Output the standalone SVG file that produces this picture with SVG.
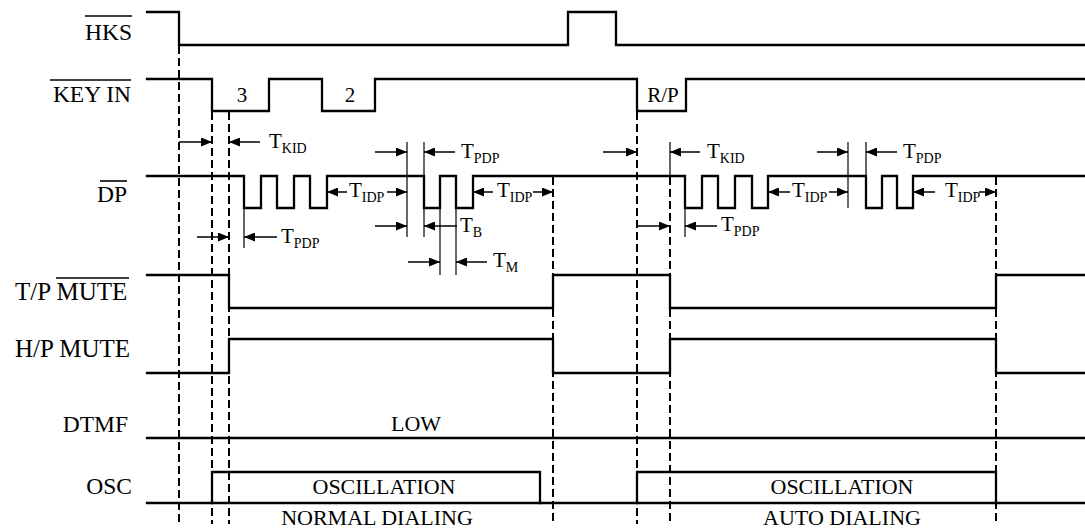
<svg xmlns="http://www.w3.org/2000/svg" width="1085" height="532" viewBox="0 0 1085 532" font-family="'Liberation Serif', 'Times New Roman', serif">
<style>
.sig{fill:none;stroke:#000;stroke-width:2.3;stroke-linejoin:miter;stroke-linecap:square}
.dash{fill:none;stroke:#000;stroke-width:2;stroke-dasharray:8 4}
.thin{fill:none;stroke:#000;stroke-width:1.2}
.arr{fill:none;stroke:#000;stroke-width:1.5;marker-end:url(#ah)}
.ovl{stroke:#000;stroke-width:1.6}
text{font-family:'Liberation Serif','Times New Roman',serif;fill:#000}
.lbl{font-size:23.5px;text-anchor:end}
.mute{font-size:25px}
.t{font-size:21px}
.s{font-size:14px}
.c{font-size:22px;text-anchor:middle}
.k{font-size:21px;text-anchor:middle}
</style>
<defs>
<marker id="ah" markerUnits="userSpaceOnUse" markerWidth="11" markerHeight="9" refX="11" refY="4.5" orient="auto">
<path d="M0,0 L11,4.5 L0,9 z" fill="#000"/>
</marker>
</defs>
<rect width="1085" height="532" fill="#fff"/>

<g id="hks">
<text class="lbl" x="132" y="40">HKS</text>
<line class="ovl" x1="85" y1="16" x2="132" y2="16"/>
<path class="sig" d="M147,12 H179 V45 H568 V12 H616 V45 H1085"/>
</g>

<g id="keyin">
<text class="lbl" x="131" y="102">KEY IN</text>
<line class="ovl" x1="50" y1="80" x2="131" y2="80"/>
<path class="sig" d="M147,79 H212 V111 H269 V79 H322 V111 H375 V79 H637 V111 H686 V79 H1085"/>
<text class="k" x="242" y="102">3</text>
<text class="k" x="350" y="102">2</text>
<text class="k" x="663" y="102">R/P</text>
</g>

<g id="dp">
<text class="lbl" x="127" y="202">DP</text>
<line class="ovl" x1="100" y1="181" x2="127" y2="181"/>
<path class="sig" d="M147,176 H244 V208 H261 V176 H277 V208 H294 V176 H310 V208 H327 V176 H424 V208 H440 V176 H456 V208 H473 V176 H685 V208 H702 V176 H718 V208 H735 V176 H752 V208 H768 V176 H866 V208 H882 V176 H897 V208 H913 V176 H1085"/>
</g>

<g id="tpmute">
<text class="mute" x="15" y="300">T/P MUTE</text>
<line class="ovl" x1="56" y1="278" x2="129" y2="278"/>
<path class="sig" d="M147,275 H229 V308 H553 V275 H670 V308 H996 V275 H1085"/>
</g>

<g id="hpmute">
<text class="mute" x="15" y="357">H/P MUTE</text>
<path class="sig" d="M147,373 H229 V339 H553 V373 H670 V339 H996 V373 H1085"/>
</g>

<g id="dtmf">
<text class="lbl" x="128" y="432">DTMF</text>
<path class="sig" d="M147,438 H1085"/>
<text class="c" x="416" y="431">LOW</text>
</g>

<g id="osc">
<text class="lbl" x="132" y="494">OSC</text>
<path class="sig" d="M147,503 H1085"/>
<path class="sig" d="M212,503 V472 H540 V503"/>
<path class="sig" d="M637,503 V472 H996 V503"/>
<text class="c" x="384" y="494">OSCILLATION</text>
<text class="c" x="842" y="494">OSCILLATION</text>
<text class="c" x="377" y="525">NORMAL DIALING</text>
<text class="c" x="842" y="525">AUTO DIALING</text>
</g>

<g id="connectors">
<line class="dash" x1="179" y1="46" x2="179" y2="524"/>
<line class="dash" x1="212" y1="112" x2="212" y2="524"/>
<line class="dash" x1="229" y1="112" x2="229" y2="524"/>
<line class="dash" x1="553" y1="177" x2="553" y2="524"/>
<line class="dash" x1="637" y1="112" x2="637" y2="524"/>
<line class="dash" x1="670" y1="177" x2="670" y2="524"/>
<line class="dash" x1="996" y1="177" x2="996" y2="524"/>

<line class="thin" x1="670" y1="142" x2="670" y2="176"/>
<line class="thin" x1="685" y1="208" x2="685" y2="237"/>
<line class="thin" x1="244" y1="208" x2="244" y2="248"/>
<line class="thin" x1="407" y1="142" x2="407" y2="237"/>
<line class="thin" x1="424" y1="142" x2="424" y2="237"/>
<line class="thin" x1="440" y1="176" x2="440" y2="275"/>
<line class="thin" x1="456" y1="176" x2="456" y2="275"/>
<line class="thin" x1="848" y1="142" x2="848" y2="208"/>
<line class="thin" x1="866" y1="142" x2="866" y2="176"/>

<line class="arr" x1="179" y1="142" x2="212" y2="142"/>
<line class="arr" x1="260" y1="142" x2="229" y2="142"/>
<text x="269" y="148"><tspan class="t">T</tspan><tspan class="s" dy="5">KID</tspan></text>
<line class="arr" x1="197" y1="237" x2="229" y2="237"/>
<line class="arr" x1="277" y1="237" x2="244" y2="237"/>
<text x="281" y="243"><tspan class="t">T</tspan><tspan class="s" dy="5">PDP</tspan></text>
<line class="arr" x1="347" y1="192" x2="327" y2="192"/>
<text x="349" y="197"><tspan class="t">T</tspan><tspan class="s" dy="5">IDP</tspan></text>
<line class="arr" x1="387" y1="192" x2="407" y2="192"/>
<line class="arr" x1="375" y1="152" x2="407" y2="152"/>
<line class="arr" x1="455" y1="152" x2="424" y2="152"/>
<text x="461" y="158"><tspan class="t">T</tspan><tspan class="s" dy="5">PDP</tspan></text>
<line class="arr" x1="375" y1="226" x2="407" y2="226"/>
<line class="arr" x1="457" y1="226" x2="424" y2="226"/>
<text x="460" y="232"><tspan class="t">T</tspan><tspan class="s" dy="5">B</tspan></text>
<line class="arr" x1="408" y1="262" x2="440" y2="262"/>
<line class="arr" x1="487" y1="262" x2="456" y2="262"/>
<text x="493" y="267"><tspan class="t">T</tspan><tspan class="s" dy="5">M</tspan></text>
<line class="arr" x1="493" y1="192" x2="473" y2="192"/>
<text x="497" y="197"><tspan class="t">T</tspan><tspan class="s" dy="5">IDP</tspan></text>
<line class="arr" x1="533" y1="192" x2="553" y2="192"/>
<line class="arr" x1="603" y1="152" x2="637" y2="152"/>
<line class="arr" x1="700" y1="152" x2="670" y2="152"/>
<text x="707" y="158"><tspan class="t">T</tspan><tspan class="s" dy="5">KID</tspan></text>
<line class="arr" x1="637" y1="226" x2="670" y2="226"/>
<line class="arr" x1="717" y1="226" x2="685" y2="226"/>
<text x="721" y="231"><tspan class="t">T</tspan><tspan class="s" dy="5">PDP</tspan></text>
<line class="arr" x1="790" y1="192" x2="768" y2="192"/>
<text x="792" y="197"><tspan class="t">T</tspan><tspan class="s" dy="5">IDP</tspan></text>
<line class="arr" x1="829" y1="192" x2="848" y2="192"/>
<line class="arr" x1="817" y1="152" x2="848" y2="152"/>
<line class="arr" x1="897" y1="152" x2="866" y2="152"/>
<text x="903" y="158"><tspan class="t">T</tspan><tspan class="s" dy="5">PDP</tspan></text>
<line class="arr" x1="935" y1="192" x2="913" y2="192"/>
<text x="945" y="197"><tspan class="t">T</tspan><tspan class="s" dy="5">IDP</tspan></text>
<line class="arr" x1="979" y1="192" x2="996" y2="192"/>
</g>
</svg>
